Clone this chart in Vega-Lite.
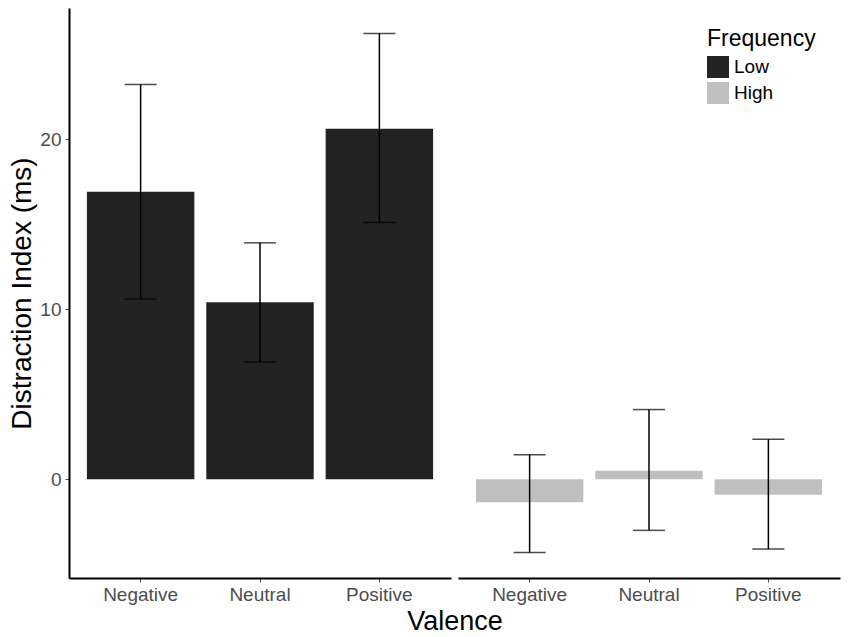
{
  "$schema": "https://vega.github.io/schema/vega-lite/v6.json",
  "padding": {"left": 8, "top": 8, "right": 5, "bottom": 0},
  "background": "white",
  "data": {
    "values": [
      {"Frequency": "Low", "Valence": "Negative", "mean": 16.9, "lower": 10.6, "upper": 23.2},
      {"Frequency": "Low", "Valence": "Neutral", "mean": 10.4, "lower": 6.9, "upper": 13.9},
      {"Frequency": "Low", "Valence": "Positive", "mean": 20.6, "lower": 15.1, "upper": 26.2},
      {"Frequency": "High", "Valence": "Negative", "mean": -1.35, "lower": -4.3, "upper": 1.45},
      {"Frequency": "High", "Valence": "Neutral", "mean": 0.5, "lower": -3.0, "upper": 4.1},
      {"Frequency": "High", "Valence": "Positive", "mean": -0.9, "lower": -4.1, "upper": 2.35}
    ]
  },
  "facet": {
    "column": {
      "field": "Frequency",
      "type": "nominal",
      "sort": ["Low", "High"],
      "title": "Valence",
      "header": {
        "labels": false,
        "titleOrient": "bottom",
        "titleFontSize": 27,
        "titleFont": "Liberation Sans",
        "titleFontWeight": "normal",
        "titleColor": "black",
        "titlePadding": -5
      }
    }
  },
  "spacing": 7,
  "spec": {
    "width": 382,
    "height": 570,
    "encoding": {
      "x": {
        "field": "Valence",
        "type": "nominal",
        "sort": ["Negative", "Neutral", "Positive"],
        "scale": {"paddingInner": 0.1, "paddingOuter": 0.15},
        "axis": {
          "title": null,
          "labelAngle": 0,
          "labelFontSize": 19,
          "labelColor": "#4d4d4d",
          "labelPadding": 3,
          "tickSize": 4,
          "tickColor": "#4d4d4d",
          "domainColor": "black",
          "domainWidth": 2
        }
      }
    },
    "layer": [
      {
        "mark": {"type": "bar"},
        "encoding": {
          "y": {
            "field": "mean",
            "type": "quantitative",
            "title": "Distraction Index (ms)",
            "scale": {"domain": [-5.8, 27.7], "nice": false, "zero": false},
            "axis": {
              "titleFontSize": 28,
              "titleFontWeight": "normal",
              "titleColor": "black",
              "titlePadding": 3,
              "values": [0, 10, 20],
              "grid": false,
              "labelFontSize": 19,
              "labelColor": "#4d4d4d",
              "labelPadding": 4,
              "tickSize": 4,
              "tickColor": "#4d4d4d",
              "domainColor": "black",
              "domainWidth": 2
            }
          },
          "y2": {"datum": 0},
          "color": {
            "field": "Frequency",
            "type": "nominal",
            "sort": ["Low", "High"],
            "scale": {"domain": ["Low", "High"], "range": ["#232323", "#bfbfbf"]},
            "legend": {
              "title": "Frequency",
              "orient": "none",
              "legendX": 638,
              "legendY": 20,
              "titleFontSize": 23,
              "titleFontWeight": "normal",
              "titleColor": "black",
              "labelFontSize": 19,
              "labelColor": "black",
              "labelOffset": 5,
              "symbolType": "square",
              "symbolSize": 484,
              "symbolStrokeWidth": 0,
              "symbolOpacity": 1,
              "rowPadding": 4
            }
          }
        }
      },
      {
        "mark": {
          "type": "errorbar",
          "color": "black",
          "ticks": {"size": 32, "thickness": 1.5, "color": "black"},
          "rule": {"strokeWidth": 1.5}
        },
        "encoding": {
          "y": {"field": "lower", "type": "quantitative", "title": "Distraction Index (ms)"},
          "y2": {"field": "upper"}
        }
      }
    ]
  },
  "resolve": {"scale": {"y": "shared"}},
  "config": {
    "font": "Liberation Sans",
    "view": {"stroke": null},
    "axis": {"labelFont": "Liberation Sans", "titleFont": "Liberation Sans"},
    "legend": {"labelFont": "Liberation Sans", "titleFont": "Liberation Sans"}
  }
}
